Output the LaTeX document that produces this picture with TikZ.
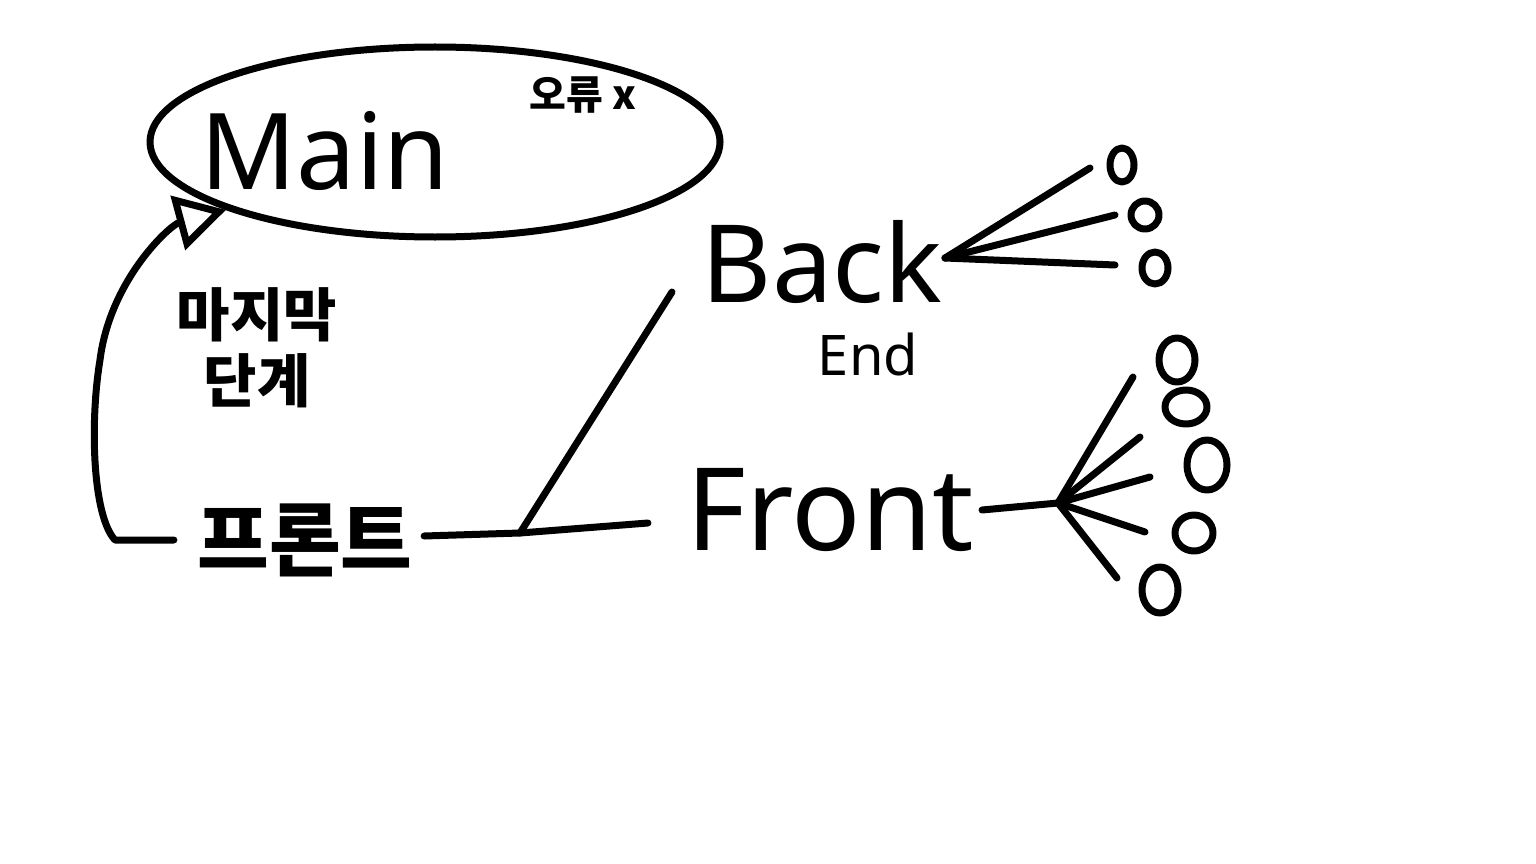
\documentclass[tikz,border=0pt]{standalone}
\usepackage{fontspec}
\setmainfont{Noto Sans}
\newfontfamily\kr{Noto Sans CJK KR}
\usetikzlibrary{arrows.meta,shapes.geometric}
\begin{document}
\begin{tikzpicture}[x=1pt,y=-1pt,line width=7pt,line cap=round,line join=round,
  lbl/.style={inner sep=0pt,font=\fontsize{#1}{#1}\selectfont},
  krl/.style={inner sep=0pt,font=\kr\fontsize{#1}{#1}\selectfont\bfseries},
  blob/.style={draw,ellipse,inner sep=0pt}]
\useasboundingbox (0,0) rectangle (1536,864);
% main oval
\node[draw,ellipse,minimum width=570,minimum height=190,inner sep=0pt] (oval) at (435,142) {};
\node[lbl=106] (main) at (325,151) {Main};
\node[krl=40] (err) at (583,95) {오류 x};
% labels
\node[krl=58] (last1) at (257,315) {마지막};
\node[krl=58] (last2) at (257,381) {단계};
\node[krl=78] (prt) at (305,540) {프론트};
\node[lbl=108] (back) at (822,262) {Back};
\node[lbl=56] (end) at (868,354) {End};
\node[lbl=115] (front) at (830,510) {Front};
% arrow back to Main
\coordinate (tl) at (115,540);
\draw[-{Triangle[open,length=50pt,width=55pt]}] ([xshift=-20pt]prt.west) -- (tl)
  .. controls (92,515) and (90,420) .. (100,360)
  .. controls (110,280) and (170,225) .. (oval.-162);
% connectors
\coordinate (junc) at (520,533);
\coordinate (bk) at (672,292);
\draw ([shift={(8,-4)}]prt.east) -- (junc) -- ([shift={(-35,13)}]front.west);
\draw (junc) -- (bk);
% back fan
\coordinate (bhub) at (945,258);
\coordinate (b1) at (1090,168);
\coordinate (b2) at (1115,215);
\coordinate (b3) at (1115,265);
\draw (bhub) -- (b1); \draw (bhub) -- (b2); \draw (bhub) -- (b3);
\node[blob,minimum width=24,minimum height=34] (bo1) at (1122,165) {};
\node[blob,minimum width=28,minimum height=28] (bo2) at (1145,215) {};
\node[blob,minimum width=26,minimum height=32] (bo3) at (1155,268) {};
% front fan
\coordinate (fhub) at (1058,503);
\draw ([xshift=5pt]front.east) -- (fhub);
\coordinate (f1) at (1133,377);
\coordinate (f2) at (1140,437);
\coordinate (f3) at (1150,477);
\coordinate (f4) at (1145,532);
\coordinate (f5) at (1117,578);
\foreach \f in {f1,f2,f3,f4,f5} \draw (fhub) -- (\f);
\node[blob,minimum width=36,minimum height=44] (fo1) at (1177,360) {};
\node[blob,minimum width=42,minimum height=34] (fo2) at (1186,407) {};
\node[blob,minimum width=40,minimum height=50] (fo3) at (1207,465) {};
\node[blob,minimum width=38,minimum height=36] (fo4) at (1194,533) {};
\node[blob,minimum width=36,minimum height=46] (fo5) at (1160,590) {};
\end{tikzpicture}
\end{document}
